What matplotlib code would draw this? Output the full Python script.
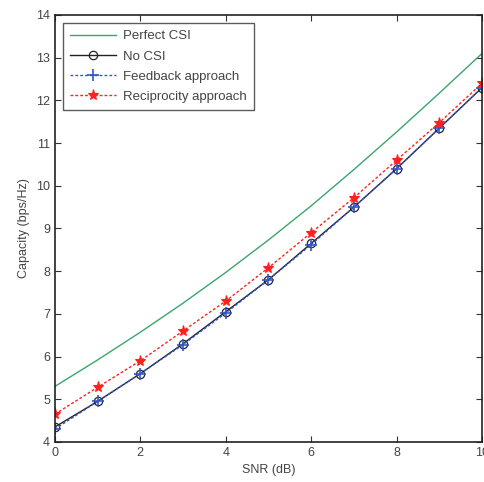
import matplotlib
matplotlib.use("Agg")
import matplotlib.pyplot as plt

plt.rcParams['font.family'] = ['Liberation Sans', 'DejaVu Sans']

snr = [0, 1, 2, 3, 4, 5, 6, 7, 8, 9, 10]
perfect_csi = [5.3, 5.92, 6.57, 7.25, 7.97, 8.73, 9.53, 10.38, 11.26, 12.17, 13.1]
no_csi = [4.35, 4.95, 5.6, 6.3, 7.05, 7.8, 8.65, 9.5, 10.4, 11.35, 12.3]
feedback = [4.3, 4.95, 5.6, 6.28, 7.02, 7.8, 8.62, 9.5, 10.4, 11.35, 12.3]
reciprocity = [4.65, 5.28, 5.9, 6.6, 7.3, 8.08, 8.9, 9.72, 10.6, 11.48, 12.4]

xticks = [0, 2, 4, 6, 8, 10]
yticks = [4, 5, 6, 7, 8, 9, 10, 11, 12, 13, 14]

fig = plt.figure(figsize=(4.85, 4.82), dpi=100)
ax = fig.add_axes([0.113, 0.083, 0.881, 0.886])

ax.plot(snr, perfect_csi, color='#3aa66a', lw=1.0, label='Perfect CSI')
ax.plot(snr, no_csi, color='#222222', lw=1.0, marker='o', ms=6,
        mfc='none', mec='#222222', mew=0.9, label='No CSI')
ax.plot(snr, feedback, color='#3355cc', lw=1.0, ls=(0, (2, 1.5)),
        marker='+', ms=8, mew=1.2, label='Feedback approach')
ax.plot(snr, reciprocity, color='#ff2020', lw=1.0, ls=(0, (2, 1.5)),
        marker='*', ms=8, mew=0.8, label='Reciprocity approach')

ax.set_xlim(0, 10)
ax.set_ylim(4, 14)
ax.set_xticks(xticks)
ax.set_yticks(yticks)
ax.tick_params(direction='in', top=True, right=True, length=4,
               labelsize=9, colors='#333333', labelcolor='#444444')
for s in ax.spines.values():
    s.set_linewidth(1.2)
    s.set_color('#222222')

ax.set_xlabel('SNR (dB)', fontsize=9, color='#444444')
ax.set_ylabel('Capacity (bps/Hz)', fontsize=9, color='#444444')

leg = ax.legend(loc='upper left', fontsize=9.5, frameon=True, fancybox=False,
                edgecolor='#333333', handlelength=3.5, handletextpad=0.5,
                borderpad=0.55, labelspacing=0.6, borderaxespad=0.6)
for t in leg.get_texts():
    t.set_color('#444444')
leg.get_frame().set_linewidth(1.0)

fig.savefig('out.png', dpi=100)
